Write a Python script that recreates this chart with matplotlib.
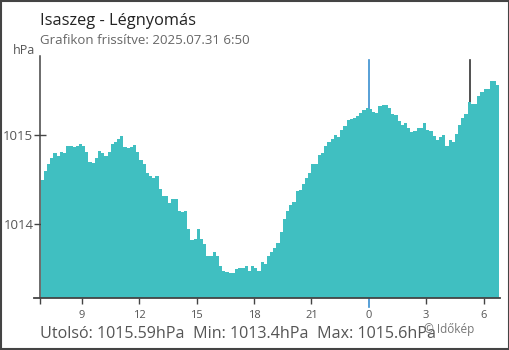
import numpy as np
import matplotlib
matplotlib.use("Agg")
import matplotlib.pyplot as plt
from matplotlib.patches import Rectangle

plt.rcParams['font.family'] = ['Open Sans', 'DejaVu Sans']

# pressure readings every 10 minutes, 2025.07.30 6:50 -> 2025.07.31 6:50 (hPa)
pressure = [
    1014.50, 1014.60, 1014.68, 1014.74, 1014.80, 1014.76, 1014.81, 1014.80, 1014.88, 1014.88,
    1014.87, 1014.88, 1014.90, 1014.88, 1014.81, 1014.70, 1014.69, 1014.74, 1014.82, 1014.80,
    1014.76, 1014.81, 1014.90, 1014.92, 1014.96, 1014.99, 1014.87, 1014.85, 1014.87, 1014.89,
    1014.81, 1014.72, 1014.68, 1014.58, 1014.54, 1014.52, 1014.54, 1014.40, 1014.32, 1014.32,
    1014.24, 1014.28, 1014.28, 1014.15, 1014.14, 1014.15, 1013.95, 1013.82, 1013.84, 1013.95,
    1013.84, 1013.78, 1013.65, 1013.64, 1013.69, 1013.64, 1013.53, 1013.48, 1013.47, 1013.46,
    1013.45, 1013.50, 1013.51, 1013.51, 1013.53, 1013.48, 1013.53, 1013.51, 1013.48, 1013.58,
    1013.56, 1013.64, 1013.69, 1013.73, 1013.79, 1013.91, 1014.06, 1014.15, 1014.22, 1014.25,
    1014.37, 1014.39, 1014.45, 1014.52, 1014.57, 1014.68, 1014.68, 1014.78, 1014.80, 1014.88,
    1014.92, 1014.96, 1015.00, 1014.98, 1015.06, 1015.10, 1015.17, 1015.18, 1015.19, 1015.21,
    1015.25, 1015.28, 1015.30, 1015.29, 1015.26, 1015.25, 1015.32, 1015.34, 1015.34, 1015.30,
    1015.24, 1015.22, 1015.16, 1015.11, 1015.14, 1015.08, 1015.03, 1015.05, 1015.08, 1015.08,
    1015.13, 1015.06, 1015.04, 1014.99, 1014.94, 1014.98, 1015.00, 1014.88, 1014.94, 1014.92,
    1015.01, 1015.11, 1015.19, 1015.24, 1015.37, 1015.35, 1015.35, 1015.44, 1015.48, 1015.52,
    1015.52, 1015.60, 1015.60, 1015.56, 1015.59,
]
start_hour = 6 + 50 / 60
hours = start_hour + np.arange(len(pressure)) / 6

tick_hours = [9, 12, 15, 18, 21, 24, 27, 30]
tick_labels = ['9', '12', '15', '18', '21', '0', '3', '6']
midnight = 24
marker_hour = 29.28

fill_color = '#40bfc1'
axis_color = '#444444'

fig = plt.figure(figsize=(5.1, 3.5), dpi=100)
ax = fig.add_axes([40 / 510, 52 / 350, 460 / 510, 242 / 350])

ymin, ymax = 1013.175, 1015.885
ax.set_xlim(6.8, 30.86)
ax.set_ylim(ymin, ymax)

ax.fill_between(hours, pressure, ymin, step='post', color=fill_color,
                linewidth=0, zorder=3)

top = 238 / 242
ax.axvline(midnight, ymin=-0.036, ymax=top, color='#3a8fd0', lw=1.2,
           clip_on=False, zorder=2)
ax.axvline(marker_hour, ymin=0, ymax=top, color='#333333', lw=1.2, zorder=2)

for s in ['top', 'right', 'bottom']:
    ax.spines[s].set_visible(False)
ax.spines['left'].set_color(axis_color)
ax.spines['left'].set_linewidth(1.1)
ax.axhline(ymin, xmin=-6 / 460, xmax=1, color=axis_color, lw=1.3,
           clip_on=False, zorder=4)

ax.set_yticks([1014, 1015])
ax.set_yticklabels(['1014', '1015'])
ax.tick_params(axis='y', direction='inout', length=8.5, width=1, color=axis_color,
               labelsize=9.5, labelcolor='#555555', pad=0.5)

ax.set_xticks([6.8] + tick_hours)
ax.set_xticklabels([''] + tick_labels)
ax.tick_params(axis='x', direction='out', length=4.3, width=1, color=axis_color,
               labelsize=8, labelcolor='#555555', pad=4)
for tk, h in zip(ax.xaxis.get_major_ticks(), [6.8] + tick_hours):
    if h == midnight:
        tk.tick1line.set_visible(False)

fig.text(40 / 510, 1 - 21 / 350, 'Isaszeg - Légnyomás', fontsize=11.8,
         color='#222222', va='center', ha='left')
fig.text(40 / 510, 1 - 40 / 350, 'Grafikon frissítve: 2025.07.31 6:50',
         fontsize=9.5, color='#666666', va='center', ha='left')
fig.text(35 / 510, 1 - 50 / 350, 'hPa', fontsize=9, color='#555555',
         va='center', ha='right')
fig.text(40 / 510, 1 - 334 / 350,
         'Utolsó: 1015.59hPa  Min: 1013.4hPa  Max: 1015.6hPa',
         fontsize=11.6, color='#555555', va='center', ha='left')
fig.text(424 / 510, 1 - 330 / 350, '© Időkép', fontsize=8.5, color='#777777',
         va='center', ha='left')

fig.patches.append(Rectangle((0.0015, 0.002), 0.997, 0.996, transform=fig.transFigure,
                             fill=False, edgecolor='#444444', linewidth=1.5))

fig.savefig('out.png', dpi=100)
